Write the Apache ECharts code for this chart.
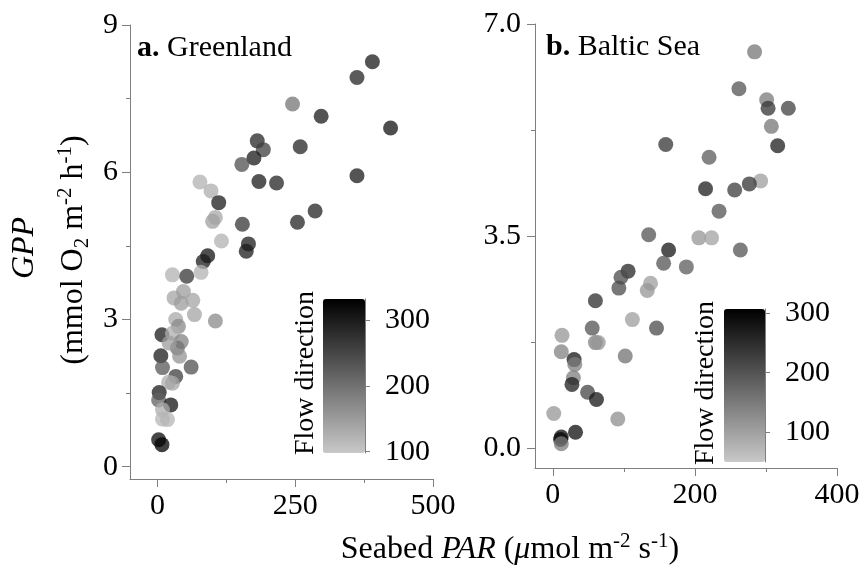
<!DOCTYPE html>
<html>
<head>
<meta charset="utf-8">
<script src="https://cdn.jsdelivr.net/npm/echarts@6/dist/echarts.min.js"></script>
<style>
  html, body { margin: 0; background: #fff; }
  #chart { width: 866px; height: 575px; }
</style>
</head>
<body>
<div id="chart"></div>
<script>
// a. Greenland
const greenlandPAR = [245, 181, 192, 175, 153, 259, 184, 216, 77, 97, 111, 105, 100, 116, 154, 254, 165, 161, 91, 83, 27, 53, 79, 362, 390, 297, 423, 362, 286, 30, 47, 43, 64, 67, 105, 33, 38, 8, 27, 43, 36, 6, 61, 9, 33, 20, 3, 2, 24, 9, 9, 18, 2, 8, 21, 40, 27]
const greenlandGPP = [7.39, 6.64, 6.46, 6.29, 6.16, 6.52, 5.81, 5.78, 5.80, 5.62, 5.38, 5.08, 5.00, 4.60, 4.94, 4.98, 4.54, 4.39, 4.30, 4.18, 3.91, 3.88, 3.96, 7.93, 8.25, 7.14, 6.90, 5.93, 5.21, 3.44, 3.57, 3.33, 3.39, 3.10, 2.97, 3.00, 2.86, 2.69, 2.72, 2.55, 2.42, 2.26, 2.03, 2.02, 1.84, 1.72, 1.51, 1.36, 1.26, 1.16, 0.97, 0.96, 0.55, 0.45, 2.52, 2.25, 1.70]
const greenlandFlow = [195, 290, 260, 300, 240, 290, 300, 290, 125, 130, 300, 135, 145, 125, 270, 290, 300, 300, 310, 300, 125, 270, 125, 290, 300, 300, 310, 300, 290, 140, 150, 150, 140, 140, 170, 135, 170, 300, 130, 180, 200, 300, 240, 230, 260, 130, 300, 220, 310, 130, 120, 120, 320, 330, 150, 160, 140]

// b. Baltic Sea
const balticPAR = [284, 262, 301, 303, 331.5, 307.6, 316.5, 159, 220, 292.5, 276.6, 256, 215, 234, 135, 205.6, 223.5, 163, 264, 156, 188, 106, 96, 93, 137.6, 133, 60, 55.5, 112, 146, 13, 60, 64, 12, 102, 30, 31, 29, 27, 49, 61.5, 1.4, 91.5, 32, 12, 11, 12]
const balticGPP = [6.54, 5.93, 5.75, 5.61, 5.61, 5.31, 4.99, 5.01, 4.80, 4.41, 4.36, 4.26, 4.28, 3.91, 3.52, 3.47, 3.47, 3.27, 3.27, 3.05, 2.99, 2.92, 2.82, 2.64, 2.72, 2.60, 2.43, 1.98, 2.12, 1.98, 1.86, 1.74, 1.74, 1.59, 1.52, 1.46, 1.38, 1.16, 1.05, 0.92, 0.80, 0.57, 0.48, 0.26, 0.18, 0.14, 0.07]
const balticFlow = [155, 200, 150, 240, 225, 155, 270, 240, 190, 105, 240, 230, 270, 200, 200, 115, 100, 280, 200, 200, 190, 260, 210, 210, 105, 115, 250, 200, 105, 210, 115, 140, 115, 140, 160, 280, 145, 145, 270, 220, 280, 115, 125, 290, 290, 300, 145]

// ticks
const greenlandXTicks = [0, 250, 500]
const greenlandXMinor = [125, 375]
const greenlandYTicks = [0, 3, 6, 9]
const greenlandYMinor = [1.5, 4.5, 7.5]
const balticXTicks = [0, 200, 400]
const balticXMinor = [100, 300]
const balticYTicks = [0, 3.5, 7]
const balticYMinor = [1.75, 5.25]
const flowTicks = [100, 200, 300]
const greenlandFlowRange = [98, 332]
const balticFlowRange = [50, 307]

const FONT = 'Liberation Serif'
const axisGray = '#7f7f7f'
const grayRamp = ['#c8c8c8', '#000000']

const chart = echarts.init(document.getElementById('chart'))

function mainAxis(gridIndex, position, min, max, ticks, extra) {
  return Object.assign({
    type: 'value', gridIndex, position, min, max,
    axisLine: { show: true, onZero: false, lineStyle: { color: axisGray, width: 1 } },
    axisTick: { show: true, inside: false, length: 8, customValues: ticks, lineStyle: { color: axisGray } },
    axisLabel: { customValues: ticks, color: '#000', fontFamily: FONT, fontSize: 30, margin: 12 },
    splitLine: { show: false },
  }, extra || {})
}
function minorAxis(gridIndex, position, min, max, ticks) {
  return {
    type: 'value', gridIndex, position, min, max,
    axisLine: { show: false, onZero: false },
    axisTick: { show: true, length: 4, customValues: ticks, lineStyle: { color: axisGray } },
    axisLabel: { show: false },
    splitLine: { show: false },
  }
}
function hiddenAxis(gridIndex) {
  return { type: 'value', gridIndex, min: 0, max: 1, show: false }
}
function colorAxis(gridIndex, range) {
  return {
    type: 'value', gridIndex, position: 'right', min: range[0], max: range[1],
    axisLine: { show: true, onZero: false, lineStyle: { color: axisGray } },
    axisTick: { show: true, length: 5, customValues: flowTicks, lineStyle: { color: axisGray } },
    axisLabel: { customValues: flowTicks, color: '#000', fontFamily: FONT, fontSize: 30, margin: 20 },
    splitLine: { show: false },
  }
}

const richText = {
  i: { fontStyle: 'italic', fontFamily: FONT, fontSize: 32, lineHeight: 38 },
  s: { fontFamily: FONT, fontSize: 21, verticalAlign: 'top', lineHeight: 38 },
  d: { fontFamily: FONT, fontSize: 21, verticalAlign: 'bottom', lineHeight: 38 },
  b: { fontWeight: 'bold', fontFamily: FONT, fontSize: 30, lineHeight: 36 },
}

function label(x, y, text, rotate, size, align) {
  return {
    type: 'text', x, y, rotation: rotate ? Math.PI / 2 : 0,
    style: {
      text, fill: '#000', fontFamily: FONT, fontSize: size,
      textAlign: align || 'center', textVerticalAlign: 'middle', rich: richText,
    },
  }
}

chart.setOption({
  animation: false,
  backgroundColor: '#fff',
  grid: [
    { left: 130, top: 25, width: 303, height: 454 },
    { left: 535, top: 24, width: 302, height: 444 },
    { left: 323, top: 299, width: 42, height: 154 },
    { left: 724, top: 309, width: 41, height: 153 },
  ],
  xAxis: [
    mainAxis(0, 'bottom', -50, 500, greenlandXTicks),
    minorAxis(0, 'bottom', -50, 500, greenlandXMinor),
    mainAxis(1, 'bottom', -25, 400, balticXTicks),
    minorAxis(1, 'bottom', -25, 400, balticXMinor),
    hiddenAxis(2),
    hiddenAxis(3),
  ],
  yAxis: [
    mainAxis(0, 'left', -0.25, 9, greenlandYTicks),
    minorAxis(0, 'left', -0.25, 9, greenlandYMinor),
    mainAxis(1, 'left', -0.33, 7, balticYTicks, {
      axisLabel: { customValues: balticYTicks, color: '#000', fontFamily: FONT, fontSize: 30, margin: 14, formatter: (v) => v.toFixed(1) },
    }),
    minorAxis(1, 'left', -0.33, 7, balticYMinor),
    colorAxis(2, greenlandFlowRange),
    colorAxis(3, balticFlowRange),
  ],
  visualMap: [
    {
      type: 'continuous', seriesIndex: 0, dimension: 2,
      min: greenlandFlowRange[0], max: greenlandFlowRange[1],
      inRange: { color: grayRamp }, calculable: false, hoverLink: false,
      left: 323, top: 299, itemWidth: 42, itemHeight: 154, padding: 0, text: null,
    },
    {
      type: 'continuous', seriesIndex: 1, dimension: 2,
      min: balticFlowRange[0], max: balticFlowRange[1],
      inRange: { color: grayRamp }, calculable: false, hoverLink: false,
      left: 724, top: 309, itemWidth: 41, itemHeight: 153, padding: 0, text: null,
    },
  ],
  series: [
    {
      type: 'scatter', xAxisIndex: 0, yAxisIndex: 0, symbolSize: 15,
      itemStyle: { opacity: 0.75 },
      data: greenlandPAR.map((x, i) => [x, greenlandGPP[i], greenlandFlow[i]]),
    },
    {
      type: 'scatter', xAxisIndex: 2, yAxisIndex: 2, symbolSize: 15,
      itemStyle: { opacity: 0.75 },
      data: balticPAR.map((x, i) => [x, balticGPP[i], balticFlow[i]]),
    },
  ],
  graphic: [
    label(137, 48, '{b|a.} Greenland', false, 30, 'left'),
    label(546, 47, '{b|b.} Baltic Sea', false, 30, 'left'),
    label(306, 373, 'Flow direction', true, 28),
    label(706, 383, 'Flow direction', true, 28),
    label(25, 248, '{i|GPP}', true, 32),
    label(74, 250, '(mmol O{d|2} m{s|-2} h{s|-1})', true, 32),
    label(510, 550, 'Seabed {i|PAR} ({i|μ}mol m{s|-2} s{s|-1})', false, 32),
  ],
})
</script>
</body>
</html>
